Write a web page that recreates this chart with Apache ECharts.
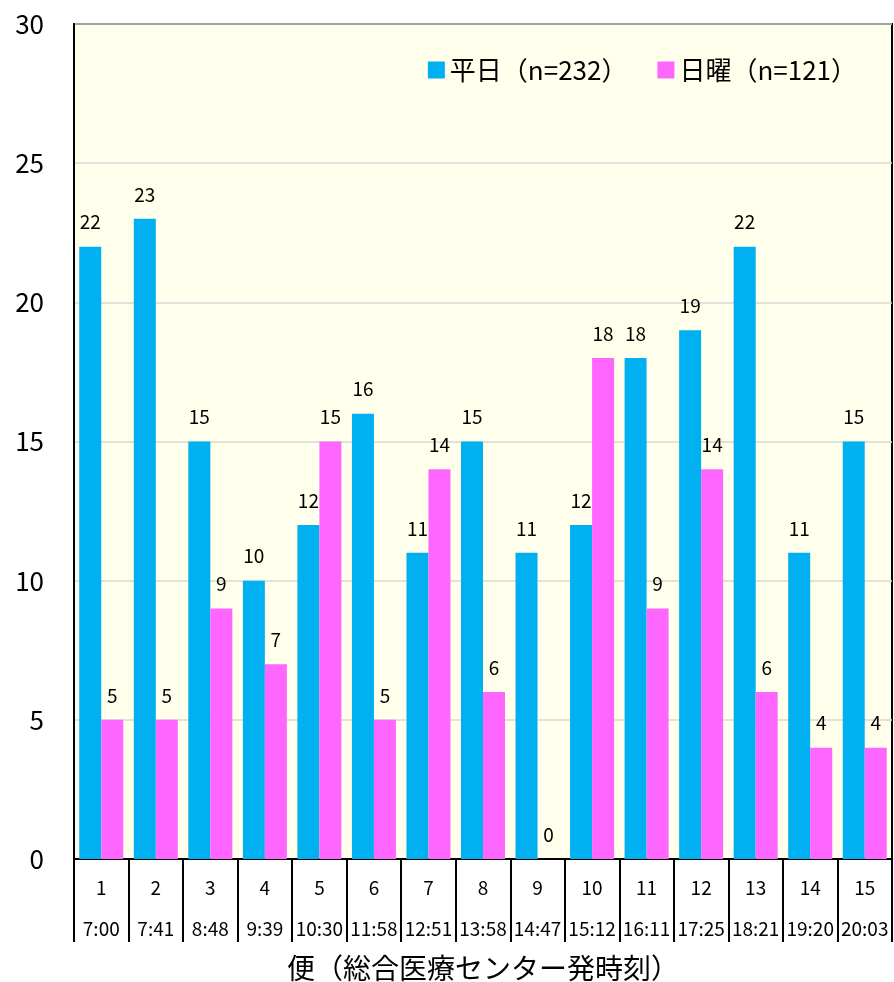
<!DOCTYPE html>
<html>
<head>
<meta charset="utf-8">
<script src="https://cdn.jsdelivr.net/npm/echarts@6/dist/echarts.min.js"></script>
<style>
  html, body { margin: 0; padding: 0; background: #fff; }
  #chart { width: 894px; height: 982px; }
</style>
</head>
<body>
<div id="chart"></div>
<script>
// 便番号と発時刻
const runNumbers = ['1', '2', '3', '4', '5', '6', '7', '8', '9', '10', '11', '12', '13', '14', '15']
const departTimes = ['7:00', '7:41', '8:48', '9:39', '10:30', '11:58', '12:51', '13:58', '14:47', '15:12', '16:11', '17:25', '18:21', '19:20', '20:03']
const weekdayValues = [22, 23, 15, 10, 12, 16, 11, 15, 11, 12, 18, 19, 22, 11, 15]
const sundayValues = [5, 5, 9, 7, 15, 5, 14, 6, 0, 18, 9, 14, 6, 4, 4]
const seriesNames = ['平日（n=232）', '日曜（n=121）']
const xTitle = '便（総合医療センター発時刻）'

const FONT = '"Noto Sans CJK JP", sans-serif'
const chart = echarts.init(document.getElementById('chart'))

const labelStyle = {
  show: true,
  position: 'top',
  distance: 15,
  color: '#000',
  fontSize: 19,
  fontFamily: FONT
}

chart.setOption({
  animation: false,
  textStyle: { fontFamily: FONT },
  grid: {
    left: 74,
    right: 2,
    top: 24,
    bottom: 123,
    outerBoundsMode: 'none',
    containLabel: false,
    show: true,
    backgroundColor: '#FFFFEB',
    borderColor: '#000',
    borderWidth: 2
  },
  legend: {
    top: 52,
    right: 32,
    itemWidth: 17,
    itemHeight: 17,
    itemGap: 30,
    icon: 'rect',
    textStyle: { fontSize: 26, color: '#000', fontFamily: FONT },
    data: seriesNames
  },
  xAxis: {
    type: 'category',
    data: runNumbers.map((n, i) => n + '\n' + departTimes[i]),
    name: xTitle,
    nameLocation: 'middle',
    nameGap: 90,
    nameTextStyle: { fontSize: 28, color: '#000', fontFamily: FONT, verticalAlign: 'top' },
    axisLine: { lineStyle: { color: '#000', width: 2 } },
    axisTick: { show: true, length: 83, lineStyle: { color: '#000', width: 2 } },
    axisLabel: {
      interval: 0,
      margin: 8,
      color: '#000',
      fontSize: 19,
      lineHeight: 41,
      fontFamily: FONT
    }
  },
  yAxis: {
    type: 'value',
    min: 0,
    max: 30,
    interval: 5,
    axisLine: { show: true, lineStyle: { color: '#000', width: 2 } },
    axisTick: { show: false },
    axisLabel: { color: '#000', fontSize: 26, margin: 30, fontFamily: FONT },
    splitLine: { lineStyle: { color: '#d9d9d9', width: 1.5 } }
  },
  series: [
    {
      name: seriesNames[0],
      type: 'bar',
      barWidth: 22,
      barGap: 0,
      itemStyle: { color: '#00B0F0' },
      label: labelStyle,
      data: weekdayValues
    },
    {
      name: seriesNames[1],
      type: 'bar',
      barWidth: 22,
      barGap: 0,
      itemStyle: { color: '#FF66FF' },
      label: labelStyle,
      data: sundayValues
    }
  ]
})
</script>
</body>
</html>
